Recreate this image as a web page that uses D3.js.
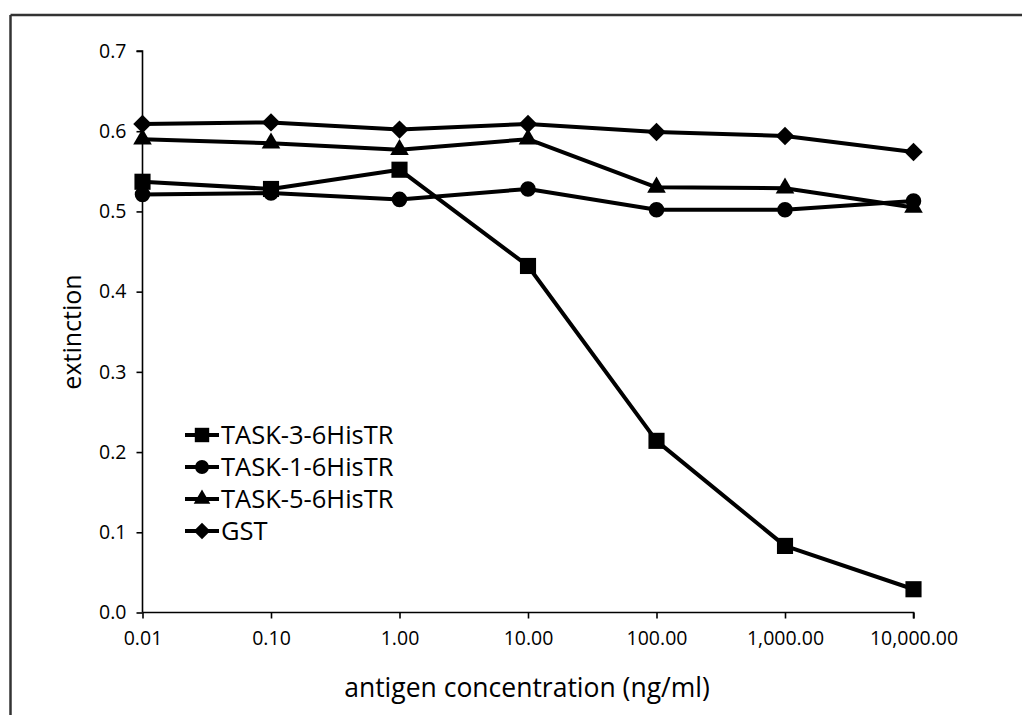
<!DOCTYPE html>
<html><head><meta charset="utf-8">
<script src="https://cdn.jsdelivr.net/npm/d3@7/dist/d3.min.js"></script>
<style>body{margin:0;background:#fff}svg{display:block}</style>
</head><body>
<svg id="c" width="1022" height="715"></svg>
<script>
const concentrations = [0.01, 0.1, 1, 10, 100, 1000, 10000];
const xTickLabels = ["0.01", "0.10", "1.00", "10.00", "100.00", "1,000.00", "10,000.00"];
const yTicks = [0, 0.1, 0.2, 0.3, 0.4, 0.5, 0.6, 0.7];
const task3 = [0.537, 0.528, 0.552, 0.432, 0.214, 0.083, 0.029];
const task1 = [0.521, 0.523, 0.515, 0.528, 0.502, 0.502, 0.513];
const task5 = [0.590, 0.585, 0.577, 0.590, 0.530, 0.529, 0.505];
const gst   = [0.609, 0.611, 0.602, 0.609, 0.599, 0.594, 0.574];
const seriesNames = ["TASK-3-6HisTR", "TASK-1-6HisTR", "TASK-5-6HisTR", "GST"];

// wide diamond (rotated square)
const wideDiamond = {
  draw(ctx, size) {
    const r = Math.sqrt(size / 2);
    ctx.moveTo(0, -r); ctx.lineTo(r, 0); ctx.lineTo(0, r); ctx.lineTo(-r, 0); ctx.closePath();
  }
};

const series = [
  {name: seriesNames[0], values: task3, sym: d3.symbolSquare, size: 260},
  {name: seriesNames[1], values: task1, sym: d3.symbolCircle, size: 190},
  {name: seriesNames[2], values: task5, sym: d3.symbolTriangle, size: 150},
  {name: seriesNames[3], values: gst, sym: wideDiamond, size: 170}
];

const svg = d3.select("#c");
const FONT = "'Open Sans', sans-serif";

// frame (top and left)
svg.append("line").attr("x1", 10.5).attr("x2", 1022).attr("y1", 15).attr("y2", 15)
  .attr("stroke", "#333").attr("stroke-width", 2.5);
svg.append("line").attr("x1", 10.5).attr("x2", 10.5).attr("y1", 15).attr("y2", 715)
  .attr("stroke", "#333").attr("stroke-width", 2.5);

const x = d3.scaleLog().domain([0.01, 10000]).range([142.5, 913.5]);
const y = d3.scaleLinear().domain([0, 0.7]).range([612.5, 51]);

// y axis
const yAxis = svg.append("g").attr("transform", "translate(142.5,0)")
  .call(d3.axisLeft(y).tickValues(yTicks).tickFormat(d3.format(".1f")).tickSize(6).tickPadding(10));
yAxis.select(".domain").attr("stroke", "#000").attr("stroke-width", 1.6).attr("d", `M-6,${y(0.7)}H0V${y(0)}`);
yAxis.selectAll(".tick line").attr("stroke", "#000").attr("stroke-width", 1.6);
yAxis.selectAll(".tick text").attr("font-family", FONT).attr("font-size", 19.5).attr("fill", "#000");

// x axis
const xAxis = svg.append("g").attr("transform", `translate(0,${y(0)})`)
  .call(d3.axisBottom(x).tickValues(concentrations).tickFormat((d, i) => xTickLabels[i]).tickSize(6).tickPadding(13));
xAxis.select(".domain").attr("stroke", "#000").attr("stroke-width", 1.6).attr("d", `M${x(0.01)},0H${x(10000)}V6`);
xAxis.selectAll(".tick line").attr("stroke", "#000").attr("stroke-width", 1.6);
xAxis.selectAll(".tick text").attr("font-family", FONT).attr("font-size", 19.5).attr("fill", "#000");

// axis titles
svg.append("text").attr("x", 527).attr("y", 697).attr("text-anchor", "middle")
  .attr("font-family", FONT).attr("font-size", 26.5).text("antigen concentration (ng/ml)");
svg.append("text").attr("transform", "translate(81,332) rotate(-90)").attr("text-anchor", "middle")
  .attr("font-family", FONT).attr("font-size", 25).text("extinction");

// lines
const line = d3.line().x((d, i) => x(concentrations[i])).y(d => y(d));
series.forEach(s => {
  svg.append("path").attr("d", line(s.values)).attr("fill", "none")
    .attr("stroke", "#000").attr("stroke-width", 4).attr("stroke-linejoin", "round");
});
series.forEach(s => {
  svg.append("g").selectAll("path").data(s.values).join("path")
    .attr("transform", (d, i) => `translate(${x(concentrations[i])},${y(d)})`)
    .attr("d", d3.symbol().type(s.sym).size(s.size)).attr("fill", "#000");
});

// legend
const lg = svg.append("g");
series.forEach((s, i) => {
  const cy = 435 + i * 32;
  lg.append("line").attr("x1", 185).attr("x2", 219).attr("y1", cy).attr("y2", cy)
    .attr("stroke", "#000").attr("stroke-width", 4);
  lg.append("path").attr("transform", `translate(202,${cy})`)
    .attr("d", d3.symbol().type(s.sym).size(s.size * 0.8)).attr("fill", "#000");
  lg.append("text").attr("x", 221).attr("y", cy).attr("dy", "0.36em")
    .attr("font-family", FONT).attr("font-size", 25.5).text(s.name);
});
</script>
</body></html>
